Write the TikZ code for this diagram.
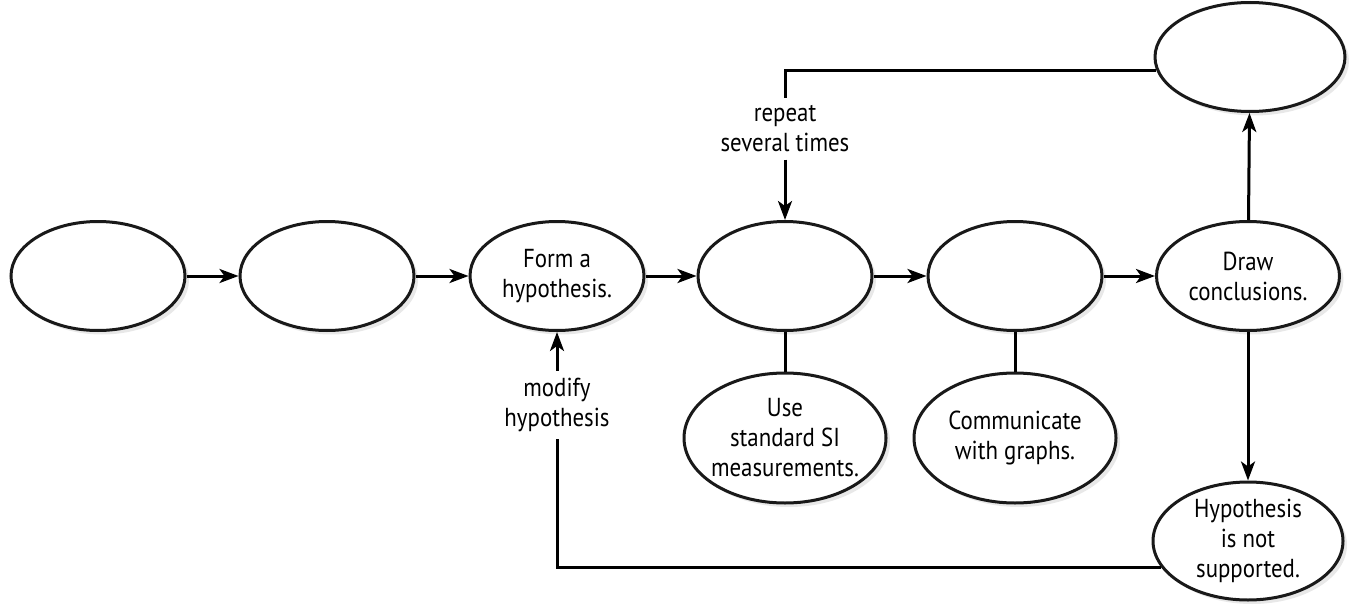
\documentclass[tikz,border=0pt]{standalone}
\usepackage{fontspec}
\setmainfont{PT Sans}[FakeStretch=0.88]
\usetikzlibrary{shapes.geometric,arrows.meta,shadows}

\begin{document}
\begin{tikzpicture}[x=1pt,y=-1pt,line width=3pt,
    bubble/.style={ellipse,draw=black!90,fill=white,inner sep=0pt,
        minimum width=174pt,minimum height=109pt,
        drop shadow={opacity=0.18,shadow xshift=4pt,shadow yshift=-4pt}},
    txt/.style={align=center,inner sep=0pt,font=\fontsize{26}{30}\selectfont},
    note/.style={txt,inner sep=6pt},
    arr/.style={-{Stealth[length=19pt,width=14pt,inset=5pt]}}]
    \useasboundingbox (0,0) rectangle (1350,605);

    % Main row
    \node[bubble] (b1) at (98,276) {};
    \node[bubble] (b2) at (327,276) {};
    \node[bubble,label={[txt]center:{Form a\\hypothesis.}}] (hyp) at (557,276) {};
    \node[bubble] (b4) at (785,276) {};
    \node[bubble] (b5) at (1015,276) {};
    \node[bubble,minimum width=183pt,label={[txt]center:{Draw\\conclusions.}}] (concl) at (1248,276) {};

    % Right column
    \node[bubble,minimum width=190pt] (top) at (1250,57) {};
    \node[bubble,minimum width=190pt,minimum height=118pt,
        label={[txt]center:{Hypothesis\\is not\\supported.}}] (rej) at (1248,541) {};

    % Lower bubbles
    \node[bubble,minimum width=202pt,minimum height=130pt,
        label={[txt]center:{Use\\standard SI\\measurements.}}] (si) at (785,438) {};
    \node[bubble,minimum width=202pt,minimum height=130pt,
        label={[txt]center:{Communicate\\with graphs.}}] (graphs) at (1015,438) {};

    % Labels
    \node[note] (rep) at (785,129) {repeat\\several times};
    \node[note] (mod) at (557,405) {modify\\hypothesis};

    % Arrows
    \draw[arr] (b1) -- (b2);
    \draw[arr] (b2) -- (hyp);
    \draw[arr] (hyp) -- (b4);
    \draw[arr] (b4) -- (b5);
    \draw[arr] (b5) -- (concl);
    \draw[arr] (concl) -- (top);
    \draw[arr] (concl) -- (rej);
    \draw (b4) -- (si);
    \draw (b5) -- (graphs);

    % Loops
    \draw (top.188) -| (rep.north);
    \draw[arr] (rep.south) -- (b4.north);
    \draw (rej.197) -| (mod.south);
    \draw[arr] (mod.north) -- (hyp.south);
\end{tikzpicture}
\end{document}
